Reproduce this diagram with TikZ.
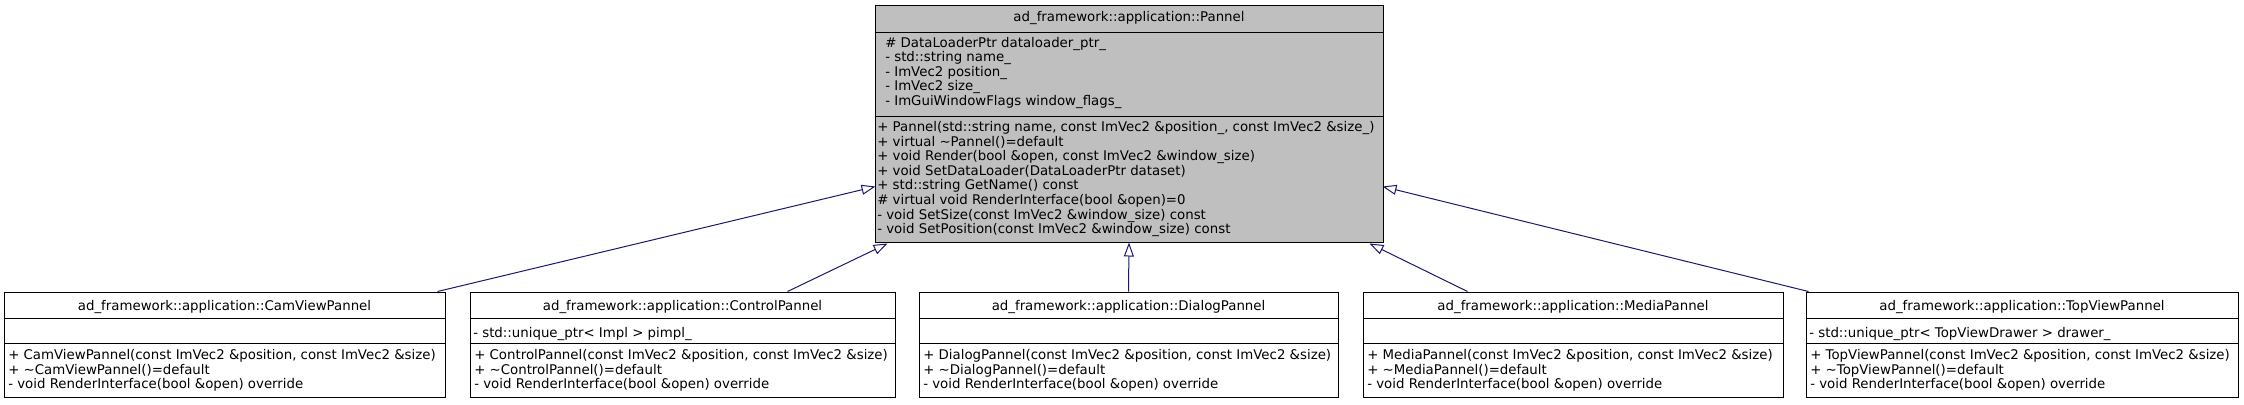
\documentclass[tikz,border=0pt]{standalone}
\usepackage{fontspec}
\setmainfont{DejaVu Sans}
\usetikzlibrary{arrows.meta,fit,calc}
\definecolor{edgeblue}{HTML}{191970}
\definecolor{mainfill}{HTML}{BFBFBF}
\tikzset{
  classbox/.style={draw=black, line width=0.75pt, inner sep=0pt, fit={#1}},
  sepline/.style={draw=black, line width=0.75pt},
  txt/.style={anchor=base west, inner sep=0pt, font=\fontsize{10}{12}\selectfont},
  ttl/.style={anchor=base, inner sep=0pt, font=\fontsize{10}{12}\selectfont},
  inh/.style={draw=edgeblue, line width=0.75pt, -{Triangle[open, length=10.5pt, width=7.5pt]}}
}
\begin{document}
\begin{tikzpicture}[x=0.75pt,y=-0.75pt]
\useasboundingbox (0,0) rectangle (2244,404);

% ---- base class
\node[classbox={(875,5) (1383,242)}, fill=mainfill] (pannel) {};
\draw[sepline] (pannel.west |- 0,32) -- (pannel.east |- 0,32);
\draw[sepline] (pannel.west |- 0,116) -- (pannel.east |- 0,116);
\node[ttl] (pannelT) at (1129,21.5) {ad\_framework::application::Pannel};
\foreach \t [count=\i from 0] in {
  {\# DataLoaderPtr dataloader\_ptr\_},
  {- std::string name\_},
  {- ImVec2 position\_},
  {- ImVec2 size\_},
  {- ImGuiWindowFlags window\_flags\_}}
  \node[txt] (pannelA\i) at (885,{47+14.6*\i}) {\t};
\foreach \t [count=\i from 0] in {
  {+ Pannel(std::string name, const ImVec2 \&position\_, const ImVec2 \&size\_)},
  {+ virtual \textasciitilde Pannel()=default},
  {+ void Render(bool \&open, const ImVec2 \&window\_size)},
  {+ void SetDataLoader(DataLoaderPtr dataset)},
  {+ std::string GetName() const},
  {\# virtual void RenderInterface(bool \&open)=0},
  {- void SetSize(const ImVec2 \&window\_size) const},
  {- void SetPosition(const ImVec2 \&window\_size) const}}
  \node[txt] (pannelM\i) at (877,{131.5+14.6*\i}) {\t};

% ---- CamViewPannel
\node[classbox={(4,292) (445,397)}] (cam) {};
\draw[sepline] (cam.west |- 0,318) -- (cam.east |- 0,318);
\draw[sepline] (cam.west |- 0,343) -- (cam.east |- 0,343);
\node[ttl] (camT) at (224.5,310) {ad\_framework::application::CamViewPannel};
\foreach \t [count=\i from 0] in {
  {+ CamViewPannel(const ImVec2 \&position, const ImVec2 \&size)},
  {+ \textasciitilde CamViewPannel()=default},
  {- void RenderInterface(bool \&open) override}}
  \node[txt] (camM\i) at (8,{359.5+14.6*\i}) {\t};

% ---- ControlPannel
\node[classbox={(470,292) (895,397)}] (ctrl) {};
\draw[sepline] (ctrl.west |- 0,318) -- (ctrl.east |- 0,318);
\draw[sepline] (ctrl.west |- 0,343) -- (ctrl.east |- 0,343);
\node[ttl] (ctrlT) at (682.5,310) {ad\_framework::application::ControlPannel};
\node[txt] (ctrlA0) at (473,337) {- std::unique\_ptr< Impl > pimpl\_};
\foreach \t [count=\i from 0] in {
  {+ ControlPannel(const ImVec2 \&position, const ImVec2 \&size)},
  {+ \textasciitilde ControlPannel()=default},
  {- void RenderInterface(bool \&open) override}}
  \node[txt] (ctrlM\i) at (474,{359.5+14.6*\i}) {\t};

% ---- DialogPannel
\node[classbox={(919,292) (1338,397)}] (dialog) {};
\draw[sepline] (dialog.west |- 0,318) -- (dialog.east |- 0,318);
\draw[sepline] (dialog.west |- 0,343) -- (dialog.east |- 0,343);
\node[ttl] (dialogT) at (1128.5,310) {ad\_framework::application::DialogPannel};
\foreach \t [count=\i from 0] in {
  {+ DialogPannel(const ImVec2 \&position, const ImVec2 \&size)},
  {+ \textasciitilde DialogPannel()=default},
  {- void RenderInterface(bool \&open) override}}
  \node[txt] (dialogM\i) at (923,{359.5+14.6*\i}) {\t};

% ---- MediaPannel
\node[classbox={(1363,292) (1783,397)}] (media) {};
\draw[sepline] (media.west |- 0,318) -- (media.east |- 0,318);
\draw[sepline] (media.west |- 0,343) -- (media.east |- 0,343);
\node[ttl] (mediaT) at (1573,310) {ad\_framework::application::MediaPannel};
\foreach \t [count=\i from 0] in {
  {+ MediaPannel(const ImVec2 \&position, const ImVec2 \&size)},
  {+ \textasciitilde MediaPannel()=default},
  {- void RenderInterface(bool \&open) override}}
  \node[txt] (mediaM\i) at (1367,{359.5+14.6*\i}) {\t};

% ---- TopViewPannel
\node[classbox={(1806,292) (2238,397)}] (top) {};
\draw[sepline] (top.west |- 0,318) -- (top.east |- 0,318);
\draw[sepline] (top.west |- 0,343) -- (top.east |- 0,343);
\node[ttl] (topT) at (2022,310) {ad\_framework::application::TopViewPannel};
\node[txt] (topA0) at (1809,337) {- std::unique\_ptr< TopViewDrawer > drawer\_};
\foreach \t [count=\i from 0] in {
  {+ TopViewPannel(const ImVec2 \&position, const ImVec2 \&size)},
  {+ \textasciitilde TopViewPannel()=default},
  {- void RenderInterface(bool \&open) override}}
  \node[txt] (topM\i) at (1810,{359.5+14.6*\i}) {\t};

% ---- inheritance edges
\draw[inh] ($(cam.north west)+(434,0)$) -- ($(pannel.north west)+(1,182)$);
\draw[inh] ($(ctrl.north west)+(318,0)$) -- ($(pannel.south west)+(13,1)$);
\draw[inh] (dialog.north) -- (pannel.south);
\draw[inh] ($(media.north west)+(105,0)$) -- ($(pannel.south east)+(-14,1)$);
\draw[inh] ($(top.north west)+(3,0)$) -- ($(pannel.north east)+(-1,182)$);
\end{tikzpicture}
\end{document}
